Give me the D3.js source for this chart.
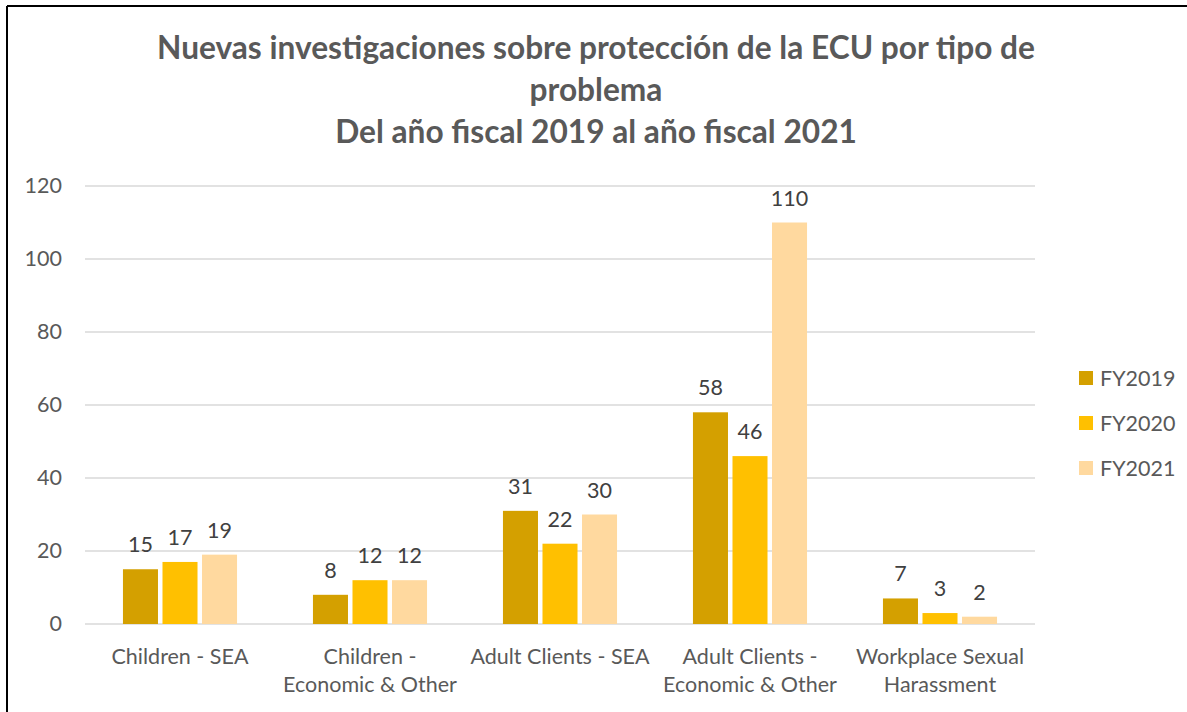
<!DOCTYPE html>
<html>
<head>
<meta charset="utf-8">
<script src="https://cdn.jsdelivr.net/npm/d3@7"></script>
<style>
  body { margin: 0; background: #fff; }
  svg { display: block; }
</style>
</head>
<body>
<div id="chart"></div>
<script>
// datos del gráfico
const categories = [
    ['Children - SEA'],
    ['Children -', 'Economic & Other'],
    ['Adult Clients - SEA'],
    ['Adult Clients -', 'Economic & Other'],
    ['Workplace Sexual', 'Harassment']
];
const seriesNames = ['FY2019', 'FY2020', 'FY2021'];
const fy2019 = [15, 8, 31, 58, 7];
const fy2020 = [17, 12, 22, 46, 3];
const fy2021 = [19, 12, 30, 110, 2];
const yTicks = [0, 20, 40, 60, 80, 100, 120];
const titleLines = [
    'Nuevas investigaciones sobre protección de la ECU por tipo de',
    'problema',
    'Del año fiscal 2019 al año fiscal 2021'
];

const colors = ['#D4A000', '#FFC000', '#FFD99F'];
const seriesValues = [fy2019, fy2020, fy2021];
const font = 'Lato, "Open Sans", sans-serif';
const labelSize = '21.5px';

const width = 1187;
const height = 712;
const plot = { left: 85, right: 1035, top: 186, bottom: 624 };

const svg = d3.select('#chart')
    .append('svg')
    .attr('width', width)
    .attr('height', height);

// borde del gráfico
svg.append('line')
    .attr('x1', 7).attr('x2', width).attr('y1', 6).attr('y2', 6)
    .attr('stroke', '#000').attr('stroke-width', 2);
svg.append('line')
    .attr('x1', 7).attr('x2', 7).attr('y1', 6).attr('y2', height)
    .attr('stroke', '#000').attr('stroke-width', 2);

// título
const title = svg.append('g')
    .attr('font-family', font)
    .attr('font-weight', 'bold')
    .attr('fill', '#595959')
    .attr('text-anchor', 'middle');
const titleEls = title.selectAll('text')
    .data(titleLines)
    .enter()
    .append('text')
    .attr('x', 596)
    .attr('y', (d, i) => 59 + i * 42)
    .attr('font-size', 28)
    .text(d => d);
// ajustar tamaño para que la primera línea mida como en la imagen
const w0 = titleEls.node().getComputedTextLength();
titleEls.attr('font-size', 28 * 878 / w0);

// escalas
const x0 = d3.scaleBand()
    .domain(d3.range(categories.length))
    .range([plot.left, plot.right])
    .padding(0);

const x1 = d3.scaleBand()
    .domain(seriesNames)
    .range([0, x0.bandwidth()])
    .paddingInner(0.114)
    .paddingOuter(0.96);

const y = d3.scaleLinear()
    .domain([0, 120])
    .range([plot.bottom, plot.top]);

// líneas de cuadrícula
svg.append('g')
    .selectAll('line')
    .data(yTicks)
    .enter()
    .append('line')
    .attr('x1', plot.left)
    .attr('x2', plot.right)
    .attr('y1', d => y(d))
    .attr('y2', d => y(d))
    .attr('stroke', '#D9D9D9')
    .attr('stroke-width', 1.5);

// eje Y
const yAxis = svg.append('g')
    .attr('transform', `translate(${plot.left - 23}, 0)`)
    .call(d3.axisLeft(y).tickValues(yTicks).tickSize(0).tickPadding(0));
yAxis.select('.domain').remove();
yAxis.selectAll('text')
    .attr('fill', '#595959')
    .style('font-family', font)
    .style('font-size', labelSize);

// barras
const groups = svg.append('g')
    .selectAll('g')
    .data(seriesNames)
    .enter()
    .append('g')
    .attr('fill', (d, i) => colors[i]);

groups.selectAll('rect')
    .data((s, si) => seriesValues[si].map((v, ci) => ({ s, v, ci })))
    .enter()
    .append('rect')
    .attr('x', d => x0(d.ci) + x1(d.s))
    .attr('y', d => y(d.v))
    .attr('width', x1.bandwidth())
    .attr('height', d => y(0) - y(d.v));

// etiquetas de valores
groups.selectAll('text')
    .data((s, si) => seriesValues[si].map((v, ci) => ({ s, v, ci })))
    .enter()
    .append('text')
    .attr('x', d => x0(d.ci) + x1(d.s) + x1.bandwidth() / 2)
    .attr('y', d => y(d.v) - 17)
    .attr('text-anchor', 'middle')
    .attr('fill', '#404040')
    .style('font-family', font)
    .style('font-size', labelSize)
    .text(d => d.v);

// etiquetas de categorías
const catLabels = svg.append('g')
    .selectAll('text')
    .data(categories)
    .enter()
    .append('text')
    .attr('x', (d, i) => x0(i) + x0.bandwidth() / 2)
    .attr('y', 664)
    .attr('text-anchor', 'middle')
    .attr('fill', '#595959')
    .style('font-family', font)
    .style('font-size', labelSize);
catLabels.selectAll('tspan')
    .data(d => d)
    .enter()
    .append('tspan')
    .attr('x', function () { return d3.select(this.parentNode).attr('x'); })
    .attr('dy', (d, i) => i === 0 ? 0 : 28)
    .text(d => d);

// leyenda
const legend = svg.append('g')
    .selectAll('g')
    .data(seriesNames)
    .enter()
    .append('g')
    .attr('transform', (d, i) => `translate(1079, ${378 + i * 45})`);
legend.append('rect')
    .attr('x', 0)
    .attr('y', -7)
    .attr('width', 14)
    .attr('height', 14)
    .attr('fill', (d, i) => colors[i]);
legend.append('text')
    .attr('x', 21)
    .attr('y', 0)
    .attr('dy', '0.35em')
    .attr('fill', '#595959')
    .style('font-family', font)
    .style('font-size', labelSize)
    .text(d => d);
</script>
</body>
</html>
